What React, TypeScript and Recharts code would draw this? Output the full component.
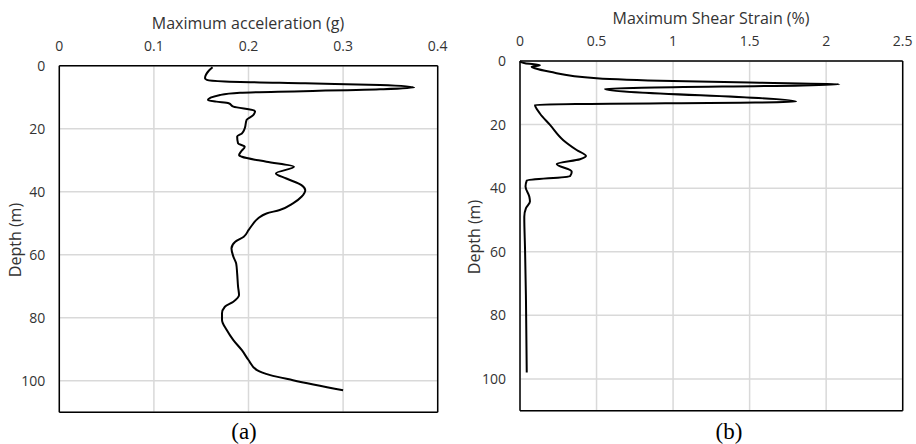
import { LineChart, Line, XAxis, YAxis, CartesianGrid, ReferenceLine } from "recharts";

// depth (m) down the profile
const depthTicks = [0, 20, 40, 60, 80, 100];

// (a) maximum acceleration (g)
const accTicks = [0, 0.1, 0.2, 0.3, 0.4];
const accDepth = [
  0.5, 1.6, 4.0, 4.5, 5.0, 5.6, 6.1, 6.9, 7.5, 8.6, 9.3, 10.9, 11.4, 11.9, 13.0, 14.4, 15.7, 17.2,
  19.9, 21.5, 22.5, 24.7, 25.7, 27.3, 28.4, 28.9, 30.5, 32.1, 34.2, 35.8, 37.9, 39.5, 41.6, 43.7,
  45.8, 46.9, 48.5, 50.1, 52.2, 54.3, 55.9, 58.0, 60.6, 62.8, 65.9, 70.2, 72.8, 74.9, 76.5, 78.6,
  80.7, 83.9, 87.1, 90.3, 93.4, 96.6, 98.2, 99.8, 103,
];
const accValues = [
  0.162, 0.158, 0.154, 0.156, 0.175, 0.26, 0.339, 0.375, 0.339, 0.191, 0.17, 0.157, 0.166, 0.179,
  0.184, 0.207, 0.205, 0.198, 0.196, 0.193, 0.188, 0.189, 0.196, 0.192, 0.19, 0.193, 0.219, 0.248,
  0.229, 0.24, 0.256, 0.26, 0.256, 0.247, 0.233, 0.219, 0.21, 0.205, 0.2, 0.195, 0.186, 0.182,
  0.184, 0.187, 0.188, 0.189, 0.19, 0.184, 0.175, 0.172, 0.172, 0.177, 0.184, 0.193, 0.2, 0.209,
  0.223, 0.247, 0.3,
];

// (b) maximum shear strain (%)
const strainTicks = [0, 0.5, 1, 1.5, 2, 2.5];
const strainDepth = [
  0.2, 0.7, 1.3, 1.8, 2.3, 3.4, 5.4, 6.3, 6.8, 7.3, 8.8, 12.8, 13.8, 16.5, 20.1, 24.9, 28.0, 29.9,
  30.9, 32.4, 34.8, 36.2, 37.6, 39.5, 42.7, 44.2, 46.3, 49, 59.4, 75.2, 98,
];
const strainValues = [
  0, 0.033, 0.13, 0.076, 0.098, 0.196, 0.5, 1.0, 1.5, 2.086, 0.555, 1.803, 0.098, 0.13, 0.196,
  0.283, 0.37, 0.431, 0.392, 0.24, 0.338, 0.327, 0.044, 0.036, 0.061, 0.065, 0.039, 0.028, 0.033,
  0.039, 0.044,
];

const accData = accDepth.map((depth, i) => ({ depth, value: accValues[i] }));
const strainData = strainDepth.map((depth, i) => ({ depth, value: strainValues[i] }));

const FONT = "'Open Sans', sans-serif";
const tickStyle = { fill: "#333", fontSize: 14, fontFamily: FONT };

type ProfileProps = {
  data: { depth: number; value: number }[];
  xTicks: number[];
  xMax: number;
  margin: { top: number; right: number; bottom: number; left: number };
};

const DepthProfile = ({ data, xTicks, xMax, margin }: ProfileProps) => (
  <LineChart layout="vertical" width={460} height={444} data={data} margin={margin}>
    <CartesianGrid stroke="#d9d9d9" strokeWidth={1.5} />
    <XAxis
      type="number"
      orientation="top"
      domain={[0, xMax]}
      ticks={xTicks}
      interval={0}
      height={30}
      axisLine={{ stroke: "#000", strokeWidth: 1.5 }}
      tickLine={false}
      tickSize={0}
      tickMargin={15}
      tick={tickStyle}
    />
    <YAxis
      type="number"
      dataKey="depth"
      domain={[0, 110]}
      ticks={depthTicks}
      interval={0}
      width={40}
      axisLine={{ stroke: "#000", strokeWidth: 1.5 }}
      tickLine={false}
      tickSize={0}
      tickMargin={14}
      tick={tickStyle}
    />
    <ReferenceLine x={xMax} stroke="#000" strokeWidth={1.5} />
    <ReferenceLine y={110} stroke="#000" strokeWidth={1.5} />
    {/* depths only increase, so a curve monotone in depth keeps the spikes sharp */}
    <Line
      type="monotoneY"
      dataKey="value"
      stroke="#000"
      strokeWidth={2}
      strokeLinejoin="round"
      dot={false}
      isAnimationActive={false}
    />
  </LineChart>
);

const textAt = (x: number, y: number, extra: React.CSSProperties = {}): React.CSSProperties => ({
  position: "absolute",
  left: x,
  top: y,
  transform: "translate(-50%, -50%)",
  whiteSpace: "nowrap",
  fontFamily: FONT,
  fontSize: 16,
  color: "#333",
  ...extra,
});

export default function App() {
  return (
    <div style={{ position: "absolute", left: 0, top: 0, width: 916, height: 444, background: "#fff" }}>
      <div style={{ position: "absolute", left: 0, top: 0 }}>
        <DepthProfile
          data={accData}
          xTicks={accTicks}
          xMax={0.4}
          margin={{ top: 35.7, right: 22.3, bottom: 31.7, left: 19.3 }}
        />
      </div>
      <div style={{ position: "absolute", left: 456, top: 0 }}>
        <DepthProfile
          data={strainData}
          xTicks={strainTicks}
          xMax={2.5}
          margin={{ top: 31, right: 13.3, bottom: 33.3, left: 24 }}
        />
      </div>

      <div style={textAt(248, 23)}>Maximum acceleration (g)</div>
      <div style={textAt(711, 18)}>Maximum Shear Strain (%)</div>
      <div style={textAt(15, 240, { transform: "translate(-50%, -50%) rotate(-90deg)" })}>Depth (m)</div>
      <div style={textAt(474, 237, { transform: "translate(-50%, -50%) rotate(-90deg)" })}>Depth (m)</div>
      <div style={textAt(244, 432, { fontFamily: "'Liberation Serif', serif", fontSize: 23, color: "#000" })}>(a)</div>
      <div style={textAt(729, 432, { fontFamily: "'Liberation Serif', serif", fontSize: 23, color: "#000" })}>(b)</div>
    </div>
  );
}
